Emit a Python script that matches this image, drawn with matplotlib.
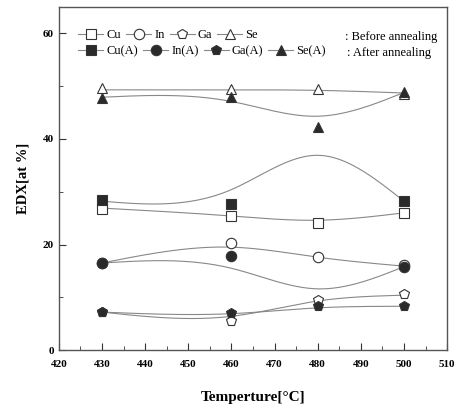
import matplotlib
matplotlib.use("Agg")
import matplotlib.pyplot as plt
import numpy as np

plt.rcParams['font.family'] = ['Liberation Serif', 'DejaVu Serif']

temps = [430, 460, 480, 500]

# measured points (marker positions)
cu = [26.8, 25.4, 24.1, 26.0]
in_ = [16.5, 20.3, 17.6, 16.2]
ga = [7.2, 5.5, 9.5, 10.6]
se = [49.7, 49.5, 49.5, 48.6]
cu_a = [28.5, 27.7, np.nan, 28.2]
in_a = [16.5, 17.8, np.nan, 15.8]
ga_a = [7.2, 7.0, 8.3, 8.3]
se_a = [47.8, 48.0, 42.3, 48.8]

# smoothed guide curves as drawn in the figure
cu_line = [26.9, 25.4, 24.6, 26.0]
in_line = [16.5, 19.5, 17.6, 15.9]
ga_line = [7.2, 6.4, 9.3, 10.4]
se_line = [49.3, 49.3, 49.2, 48.7]
cu_a_line = [28.2, 30.4, 36.9, 28.2]
in_a_line = [16.5, 15.5, 11.6, 15.8]
ga_a_line = [7.2, 6.9, 8.0, 8.3]
se_a_line = [47.9, 47.1, 44.3, 48.8]


def spline(x, y, xs):
    # natural cubic spline through the guide values
    x = np.asarray(x, float)
    y = np.asarray(y, float)
    n = len(x)
    h = np.diff(x)
    A = np.zeros((n, n))
    b = np.zeros(n)
    A[0, 0] = A[-1, -1] = 1
    for i in range(1, n - 1):
        A[i, i - 1] = h[i - 1]
        A[i, i] = 2 * (h[i - 1] + h[i])
        A[i, i + 1] = h[i]
        b[i] = 6 * ((y[i + 1] - y[i]) / h[i] - (y[i] - y[i - 1]) / h[i - 1])
    M = np.linalg.solve(A, b)
    k = np.clip(np.searchsorted(x, xs, side='right') - 1, 0, n - 2)
    t1 = x[k + 1] - xs
    t0 = xs - x[k]
    hk = h[k]
    return (M[k] * t1**3 / (6 * hk) + M[k + 1] * t0**3 / (6 * hk)
            + (y[k] / hk - M[k] * hk / 6) * t1 + (y[k + 1] / hk - M[k + 1] * hk / 6) * t0)


fig = plt.figure(figsize=(4.6, 4.09), dpi=100)
ax = fig.add_axes([0.128, 0.144, 0.844, 0.839])

xs = np.linspace(430, 500, 300)
for vals in [cu_line, in_line, ga_line, se_line, cu_a_line, in_a_line, ga_a_line, se_a_line]:
    ax.plot(xs, spline(temps, vals, xs), color='#888888', lw=0.8, zorder=1)

edge = '#333333'
before = [('Cu', cu, 's'), ('In', in_, 'o'), ('Ga', ga, 'p'), ('Se', se, '^')]
after = [('Cu(A)', cu_a, 's'), ('In(A)', in_a, 'o'), ('Ga(A)', ga_a, 'p'), ('Se(A)', se_a, '^')]

def draw(group, fc):
    hs = []
    for name, vals, m in group:
        ax.plot(temps, vals, ls='none', marker=m, ms=7.5, mfc=fc, mec=edge, mew=0.8, zorder=3)
        h, = ax.plot([], [], color='#888888', lw=0.8, marker=m, ms=7.5, mfc=fc, mec=edge, mew=0.8)
        hs.append(h)
    return hs

hb = draw(before, 'white')
ha = draw(after, '#2a2a2a')

kw = dict(ncol=4, frameon=False, loc='upper left', handlelength=2.0,
          handletextpad=0.25, columnspacing=0.4, borderpad=0, borderaxespad=0,
          prop={'family': 'Liberation Serif', 'size': 9})
leg1 = ax.legend(hb, [n for n, _, _ in before], bbox_to_anchor=(0.05, 0.935), **kw)
ax.add_artist(leg1)
ax.legend(ha, [n for n, _, _ in after], bbox_to_anchor=(0.05, 0.889), **kw)
ax.text(0.975, 0.911, ': Before annealing', transform=ax.transAxes, ha='right', va='center', fontsize=9)
ax.text(0.958, 0.865, ': After annealing', transform=ax.transAxes, ha='right', va='center', fontsize=9)

ax.set_xlim(420, 510)
ax.set_ylim(0, 65)
ax.set_xticks(np.arange(420, 511, 10))
ax.set_xticks(np.arange(425, 510, 10), minor=True)
ax.set_yticks([0, 20, 40, 60])
ax.set_yticks([10, 30, 50], minor=True)
ax.tick_params(which='both', direction='in', labelsize=8, color='#333333')
ax.tick_params(which='major', length=5)
ax.tick_params(which='minor', length=3)
ax.tick_params(axis='x', pad=7)
for lab in ax.get_xticklabels() + ax.get_yticklabels():
    lab.set_fontweight('bold')
for sp in ax.spines.values():
    sp.set_color('#555555')
    sp.set_linewidth(1.0)

ax.set_xlabel('Temperture[°C]', fontsize=11, fontweight='bold', labelpad=16)
ax.set_ylabel('EDX[at %]', fontsize=10.5, fontweight='bold', labelpad=10)

fig.savefig('out.png', dpi=100)
